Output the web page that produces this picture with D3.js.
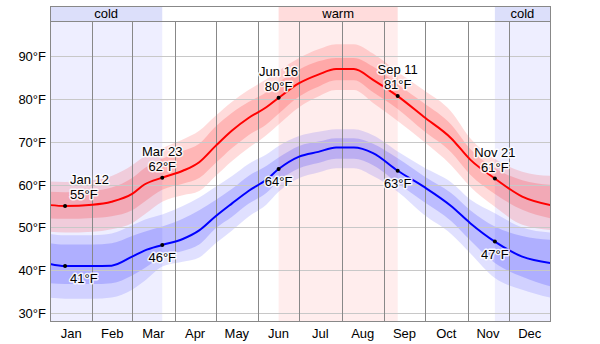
<!DOCTYPE html>
<html>
<head>
<meta charset="utf-8">
<script src="https://cdn.jsdelivr.net/npm/d3@7"></script>
<style>
  body { margin: 0; background: #fff; }
  text { font-family: "Liberation Sans", Arial, sans-serif; font-size: 13px; fill: #000; }
</style>
</head>
<body>
<svg id="chart" width="600" height="344"></svg>
<script>
// sample dates (leap year, like the source)
const dates = ["2012-01-01","2012-01-12","2012-02-01","2012-02-15","2012-03-01","2012-03-10","2012-03-23",
  "2012-04-07","2012-04-19","2012-05-01","2012-05-13","2012-05-25","2012-06-07","2012-06-16","2012-07-01",
  "2012-07-15","2012-07-28","2012-08-10","2012-08-24","2012-09-11","2012-09-30","2012-10-20","2012-11-03",
  "2012-11-21","2012-12-11","2013-01-01"];

// daily high: median and percentile bands
const highMid = [55.2,55.0,55.3,56.0,57.8,60.0,61.6,63.2,65.2,69.0,72.6,75.5,78.0,80.2,83.6,85.6,86.9,86.9,84.4,80.6,75.8,70.8,65.8,61.4,57.2,55.2];
const high90  = [60.7,60.6,61.0,62.0,64.5,66.5,68.5,70.5,72.5,76.0,79.3,82.0,84.5,86.5,89.5,91.5,92.7,92.7,90.5,86.2,82.0,77.0,70.8,66.0,63.0,62.0];
const high75  = [58.3,58.2,58.5,59.3,61.5,63.8,66.0,67.8,69.5,73.5,76.7,79.2,81.5,83.8,86.8,88.7,89.5,89.5,87.5,83.3,79.0,74.0,68.3,63.8,61.0,59.9];
const high25  = [52.1,52.0,52.2,52.6,54.0,56.0,58.8,60.2,61.5,65.0,68.5,71.5,74.0,76.5,80.5,82.8,84.3,84.3,81.5,77.6,72.5,67.5,62.3,57.8,54.1,52.1];
const high10  = [49.0,48.8,49.0,49.6,51.0,53.0,56.0,57.5,58.5,62.0,65.5,68.5,71.5,74.0,78.0,80.5,82.0,82.0,79.0,74.8,70.0,64.5,59.5,54.8,50.6,49.4];

// daily low: median and percentile bands
const lowMid = [41.5,41.0,41.0,41.1,43.2,44.6,45.9,47.3,49.3,52.6,55.6,58.5,61.1,63.6,66.5,67.6,68.6,68.6,67.3,63.2,59.5,55.0,51.0,46.7,43.2,41.7];
const low90  = [48.5,48.2,48.2,48.6,50.5,51.8,53.0,55.0,57.0,59.5,62.0,64.8,67.0,69.0,71.3,72.3,72.9,72.9,71.5,67.7,64.0,60.5,56.5,53.3,50.0,48.8];
const low75  = [46.3,46.0,46.0,46.3,48.0,49.0,50.2,52.0,54.0,56.4,59.0,62.0,64.3,66.3,69.0,70.0,70.8,70.8,69.5,66.1,62.0,58.0,54.0,50.2,48.0,47.1];
const low25  = [37.0,36.8,36.8,37.0,38.8,40.5,43.2,44.5,46.0,49.8,52.5,55.5,58.0,60.8,63.8,65.0,66.0,66.0,64.5,60.3,56.0,51.5,47.0,41.7,38.5,36.2];
const low10  = [33.6,33.4,33.4,33.7,35.5,37.5,40.9,42.0,43.0,46.3,49.3,52.5,55.3,58.3,61.5,62.8,63.8,63.8,62.0,58.3,53.0,48.5,44.0,38.2,35.5,33.6];

// seasons
const seasonNames = ["cold", "warm", "cold"];
const seasonStart = ["2012-01-01", "2012-06-16", "2012-11-21"];
const seasonEnd   = ["2012-03-23", "2012-09-11", "2013-01-01"];

// annotated days
const markDates  = ["2012-01-12","2012-03-23","2012-06-16","2012-09-11","2012-11-21"];
const markNames  = ["Jan 12","Mar 23","Jun 16","Sep 11","Nov 21"];
const markHigh   = [55, 62, 80, 81, 61];
const markLow    = [41, 46, 64, 63, 47];

const yTicks = [30, 40, 50, 60, 70, 80, 90];
const monthNames = ["Jan","Feb","Mar","Apr","May","Jun","Jul","Aug","Sep","Oct","Nov","Dec"];

const parse = d3.timeParse("%Y-%m-%d");
const svg = d3.select("#chart");
const pLeft = 50, pRight = 550, pTop = 21, pBottom = 321, headTop = 6;

const x = d3.scaleTime()
  .domain([parse("2012-01-01"), parse("2013-01-01")])
  .range([pLeft, pRight + 1]);
const y = d3.scaleLinear().domain([28.2, 98.1]).range([pBottom, pTop]);

svg.append("defs").append("clipPath").attr("id", "plot")
  .append("rect").attr("x", pLeft).attr("y", pTop).attr("width", pRight - pLeft).attr("height", pBottom - pTop);

// season backgrounds
const seasonBg = { cold: "#eeeeff", warm: "#ffeded" };
const seasonHead = { cold: "#dcdffa", warm: "#ffdcdc" };
seasonNames.forEach((s, i) => {
  const x0 = x(parse(seasonStart[i])), x1 = Math.min(x(parse(seasonEnd[i])), pRight);
  svg.append("rect").attr("x", x0).attr("y", pTop).attr("width", x1 - x0).attr("height", pBottom - pTop)
    .attr("fill", seasonBg[s]);
  svg.append("rect").attr("x", x0).attr("y", headTop).attr("width", x1 - x0).attr("height", pTop - headTop)
    .attr("fill", seasonHead[s]);
  svg.append("text").attr("x", (x0 + x1) / 2).attr("y", 18).attr("text-anchor", "middle").text(s);
});

const plot = svg.append("g").attr("clip-path", "url(#plot)");
const pts = dates.map(parse);

function band(lo, hi) {
  return d3.area().curve(d3.curveMonotoneX)
    .x((d, i) => x(pts[i])).y0((d, i) => y(lo[i])).y1((d, i) => y(hi[i]))(dates);
}
function line(v) {
  return d3.line().curve(d3.curveMonotoneX).x((d, i) => x(pts[i])).y((d, i) => y(v[i]))(dates);
}

plot.append("path").attr("d", band(low10, low90)).attr("fill", "#0000ff").attr("fill-opacity", 0.12);
plot.append("path").attr("d", band(low25, low75)).attr("fill", "#0000ff").attr("fill-opacity", 0.16);
plot.append("path").attr("d", band(high10, high90)).attr("fill", "#ff0000").attr("fill-opacity", 0.14);
plot.append("path").attr("d", band(high25, high75)).attr("fill", "#ff0000").attr("fill-opacity", 0.17);

// grid
plot.selectAll(".hgrid").data(yTicks).enter().append("line")
  .attr("x1", pLeft).attr("x2", pRight)
  .attr("y1", d => Math.round(y(d)) + 0.5).attr("y2", d => Math.round(y(d)) + 0.5)
  .attr("stroke", "#c8c8c8");
const monthStarts = d3.timeMonth.range(parse("2012-02-01"), parse("2012-12-02"));
plot.selectAll(".vgrid").data(monthStarts).enter().append("line")
  .attr("x1", d => Math.round(x(d)) + 0.5).attr("x2", d => Math.round(x(d)) + 0.5)
  .attr("y1", pTop).attr("y2", pBottom)
  .attr("stroke", "#888");

// median lines
plot.append("path").attr("d", line(lowMid)).attr("fill", "none").attr("stroke", "#0000ff").attr("stroke-width", 2);
plot.append("path").attr("d", line(highMid)).attr("fill", "none").attr("stroke", "#ff0000").attr("stroke-width", 2);

// annotations
const halo = sel => sel.attr("stroke", "#fff").attr("stroke-width", 3).attr("stroke-opacity", 0.85)
  .attr("paint-order", "stroke").attr("stroke-linejoin", "round");
markDates.forEach((d, i) => {
  const k = dates.indexOf(d);
  const px = x(parse(d));
  const hy = y(highMid[k]), ly = y(lowMid[k]);
  const first = i === 0;
  const tx = first ? px + 5 : px;
  const anchor = first ? "start" : "middle";
  svg.append("circle").attr("cx", px).attr("cy", hy).attr("r", 2).attr("fill", "#000");
  svg.append("circle").attr("cx", px).attr("cy", ly).attr("r", 2).attr("fill", "#000");
  svg.append("text").attr("x", tx).attr("y", hy - 22).attr("text-anchor", anchor).call(halo).text(markNames[i]);
  svg.append("text").attr("x", tx).attr("y", hy - 7).attr("text-anchor", anchor).call(halo).text(markHigh[i] + "°F");
  svg.append("text").attr("x", tx).attr("y", ly + 17).attr("text-anchor", anchor).call(halo).text(markLow[i] + "°F");
});

// y labels
svg.selectAll(".ylab").data(yTicks).enter().append("text")
  .attr("x", 46).attr("y", d => y(d) + 5).attr("text-anchor", "end")
  .text(d => d + "°F");

// month labels
const monthAll = d3.timeMonth.range(parse("2012-01-01"), parse("2013-01-01"));
svg.selectAll(".mlab").data(monthAll).enter().append("text")
  .attr("x", d => (x(d) + x(d3.timeMonth.offset(d, 1))) / 2).attr("y", 338)
  .attr("text-anchor", "middle")
  .text((d, i) => monthNames[i]);

// frame
svg.append("rect").attr("x", pLeft + 0.5).attr("y", headTop + 0.5)
  .attr("width", pRight - pLeft).attr("height", pBottom - headTop)
  .attr("fill", "none").attr("stroke", "#888");
svg.append("line").attr("x1", pLeft).attr("x2", pRight + 1).attr("y1", pTop + 0.5).attr("y2", pTop + 0.5)
  .attr("stroke", "#888");
</script>
</body>
</html>
